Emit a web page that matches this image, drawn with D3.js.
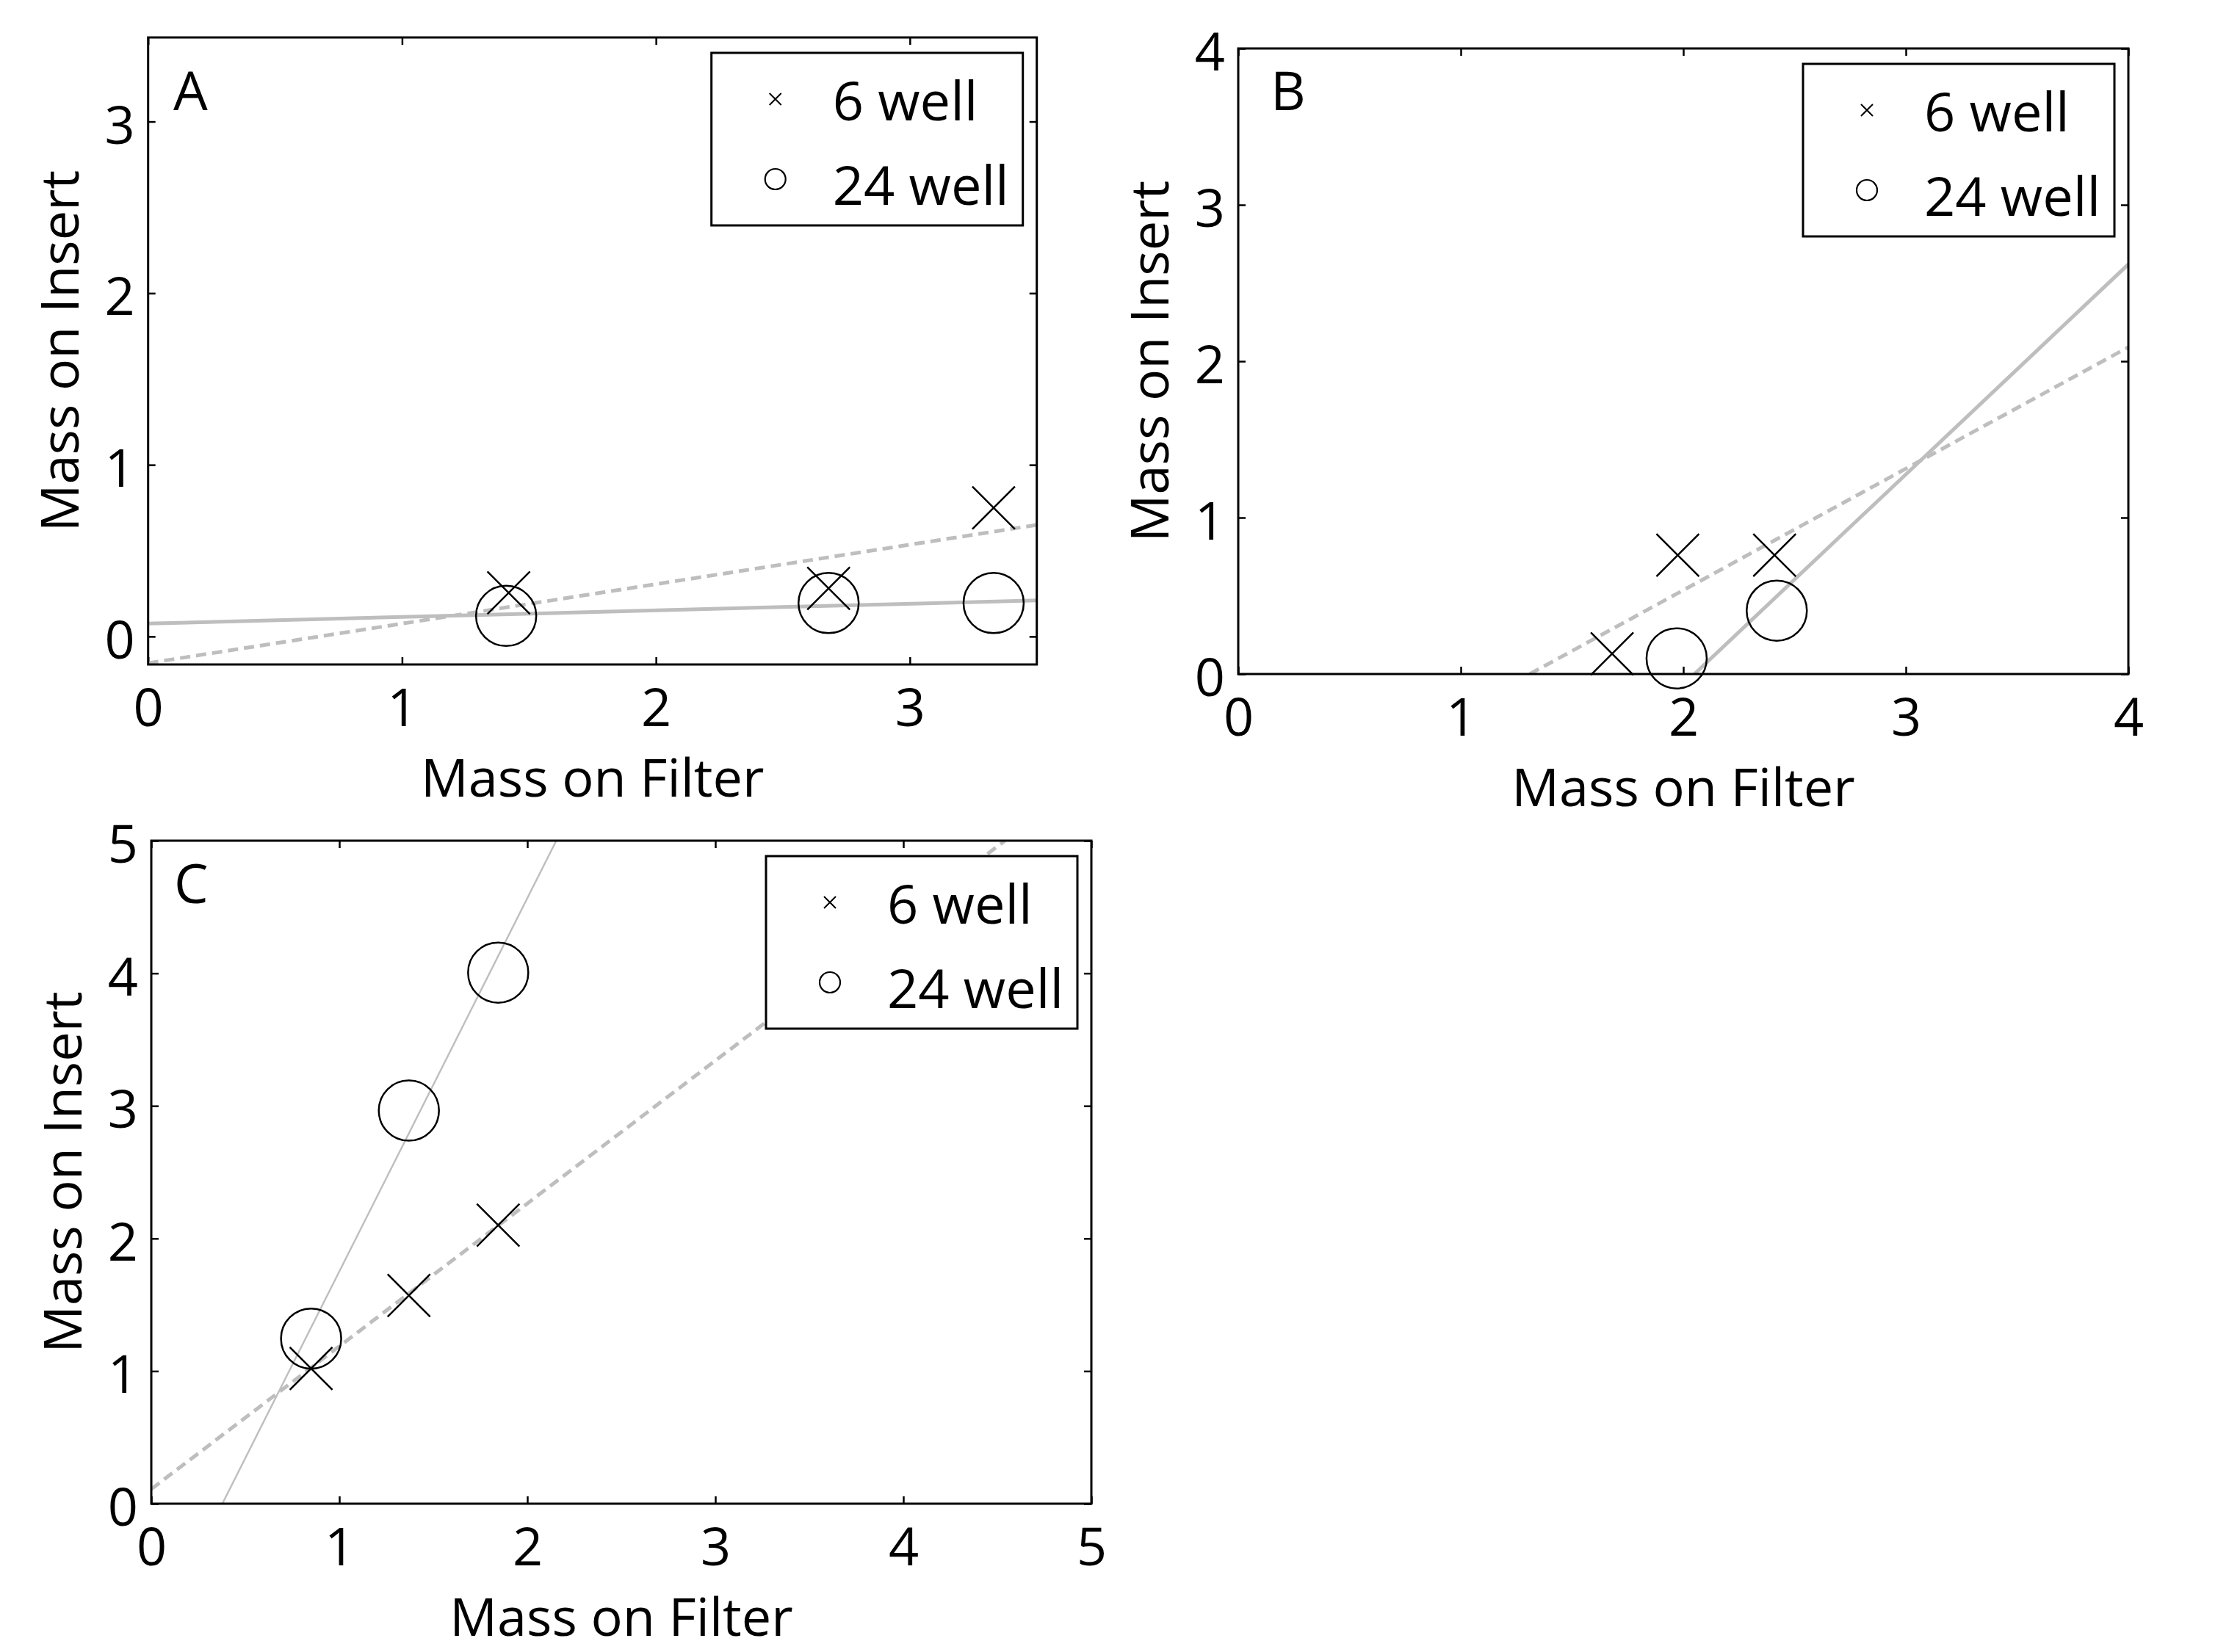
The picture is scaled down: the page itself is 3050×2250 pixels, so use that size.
<!DOCTYPE html>
<html>
<head>
<meta charset="utf-8">
<script src="https://cdn.jsdelivr.net/npm/d3@7"></script>
<style>
  html, body { margin: 0; padding: 0; background: #ffffff; }
  svg { display: block; }
  text { font-family: "Open Sans", "Noto Sans", sans-serif; fill: #000; }
</style>
</head>
<body>
<svg id="chart" width="3050" height="2250"></svg>
<script>
// ---------------- DATA ----------------
const seriesNames = ["6 well", "24 well"];
const xLabel = "Mass on Filter";
const yLabel = "Mass on Insert";

// Panel A
const ticksA_x = [0, 1, 2, 3];
const ticksA_y = [0, 1, 2, 3];
const domainA_x = [0, 3.5];
const domainA_y = [-0.163, 3.49];
const sixWellA_x = [1.42, 2.68, 3.33];
const sixWellA_y = [0.255, 0.28, 0.75];
const twentyFourWellA_x = [1.41, 2.68, 3.33];
const twentyFourWellA_y = [0.12, 0.195, 0.195];
const fitSixA = [[0, -0.155], [3.5, 0.65]];
const fitTwentyFourA = [[0, 0.075], [3.5, 0.21]];

// Panel B
const ticksB_x = [0, 1, 2, 3, 4];
const ticksB_y = [0, 1, 2, 3, 4];
const domainB_x = [0, 4];
const domainB_y = [0, 4];
const sixWellB_x = [1.68, 1.975, 2.41];
const sixWellB_y = [0.13, 0.76, 0.76];
const twentyFourWellB_x = [1.97, 2.42];
const twentyFourWellB_y = [0.1, 0.405];
const fitSixB = [[1.31, 0], [4, 2.09]];
const fitTwentyFourB = [[2.05, 0], [4, 2.62]];

// Panel C
const ticksC_x = [0, 1, 2, 3, 4, 5];
const ticksC_y = [0, 1, 2, 3, 4, 5];
const domainC_x = [0, 5];
const domainC_y = [0, 5];
const sixWellC_x = [0.85, 1.37, 1.845];
const sixWellC_y = [1.02, 1.57, 2.1];
const twentyFourWellC_x = [0.85, 1.37, 1.845];
const twentyFourWellC_y = [1.245, 2.965, 4.005];
const fitSixC = [[0, 0.11], [4.54, 5]];
const fitTwentyFourC = [[0.378, 0], [2.154, 5]];

// ---------------- LAYOUT ----------------
const panels = [
  { label: "A", box: [201.7, 51, 1411.7, 905], xd: domainA_x, yd: domainA_y, xt: ticksA_x, yt: ticksA_y,
    six: [sixWellA_x, sixWellA_y], tf: [twentyFourWellA_x, twentyFourWellA_y],
    fitSix: fitSixA, fitTf: fitTwentyFourA, tfWidth: 5, labelPos: [236, 150] },
  { label: "B", box: [1686, 66, 2898, 918], xd: domainB_x, yd: domainB_y, xt: ticksB_x, yt: ticksB_y,
    six: [sixWellB_x, sixWellB_y], tf: [twentyFourWellB_x, twentyFourWellB_y],
    fitSix: fitSixB, fitTf: fitTwentyFourB, tfWidth: 5, labelPos: [1730, 150] },
  { label: "C", box: [206, 1145, 1486, 2048], xd: domainC_x, yd: domainC_y, xt: ticksC_x, yt: ticksC_y,
    six: [sixWellC_x, sixWellC_y], tf: [twentyFourWellC_x, twentyFourWellC_y],
    fitSix: fitSixC, fitTf: fitTwentyFourC, tfWidth: 2.4, labelPos: [237, 1230] }
];

const FS = 74;      // legend / panel letters
const FS_AX = 72;   // tick labels and axis titles
const gray = "#bebebe";
const svg = d3.select("#chart");
svg.append("rect").attr("width", 3050).attr("height", 2250).attr("fill", "#fff");

function drawX(g, cx, cy, h, w) {
  g.append("path")
    .attr("d", `M${cx - h},${cy - h}L${cx + h},${cy + h}M${cx - h},${cy + h}L${cx + h},${cy - h}`)
    .attr("stroke", "#000").attr("stroke-width", w).attr("fill", "none");
}

panels.forEach((p, i) => {
  const [x0, y0, x1, y1] = p.box;
  const x = d3.scaleLinear().domain(p.xd).range([x0, x1]);
  const y = d3.scaleLinear().domain(p.yd).range([y1, y0]);
  const g = svg.append("g");

  const clipId = "clip" + i;
  svg.append("defs").append("clipPath").attr("id", clipId)
    .append("rect").attr("x", x0).attr("y", y0).attr("width", x1 - x0).attr("height", y1 - y0);

  // axes (ticks inward on all sides)
  g.append("g").attr("transform", `translate(0,${y1})`)
    .call(d3.axisBottom(x).tickValues(p.xt).tickSize(-10).tickPadding(33).tickFormat(d3.format("d")));
  const ay = g.append("g").attr("transform", `translate(${x0},0)`)
    .call(d3.axisLeft(y).tickValues(p.yt).tickSize(-10).tickPadding(18).tickFormat(d3.format("d")));
  g.append("g").attr("transform", `translate(0,${y0})`)
    .call(d3.axisTop(x).tickValues(p.xt).tickSize(-10).tickFormat(""));
  g.append("g").attr("transform", `translate(${x1},0)`)
    .call(d3.axisRight(y).tickValues(p.yt).tickSize(-10).tickFormat(""));
  g.selectAll(".domain").remove();
  g.selectAll(".tick line").attr("stroke", "#000").attr("stroke-width", 2.5);
  g.selectAll(".tick text").attr("font-size", FS_AX).attr("font-family", '"Open Sans", sans-serif').attr("fill", "#000");
  ay.selectAll(".tick text").attr("dy", "0.41em");

  // fit lines
  const line = d3.line().x(d => x(d[0])).y(d => y(d[1]));
  const lg = g.append("g").attr("clip-path", `url(#${clipId})`);
  lg.append("path").attr("d", line(p.fitSix)).attr("stroke", gray).attr("stroke-width", 5)
    .attr("stroke-dasharray", "14,8").attr("fill", "none");
  lg.append("path").attr("d", line(p.fitTf)).attr("stroke", gray).attr("stroke-width", p.tfWidth)
    .attr("fill", "none");

  // markers
  const mg = g.append("g");
  p.tf[0].forEach((vx, k) => {
    mg.append("circle").attr("cx", x(vx)).attr("cy", y(p.tf[1][k])).attr("r", 41)
      .attr("fill", "none").attr("stroke", "#000").attr("stroke-width", 2.5);
  });
  p.six[0].forEach((vx, k) => drawX(mg, x(vx), y(p.six[1][k]), 29, 2.5));

  // frame
  g.append("rect").attr("x", x0).attr("y", y0).attr("width", x1 - x0).attr("height", y1 - y0)
    .attr("fill", "none").attr("stroke", "#000").attr("stroke-width", 3);

  // panel label
  g.append("text").attr("x", p.labelPos[0]).attr("y", p.labelPos[1]).attr("font-size", FS).text(p.label);

  // axis labels
  g.append("text").attr("x", (x0 + x1) / 2).attr("y", y1 + 180).attr("text-anchor", "middle")
    .attr("font-size", FS_AX).text(xLabel);
  g.append("text").attr("transform", `translate(${x0 - 95},${(y0 + y1) / 2}) rotate(-90)`)
    .attr("text-anchor", "middle").attr("font-size", FS_AX).text(yLabel);

  // legend
  const lw = 424, lh = 235;
  const lx = x1 - 19 - lw, ly = y0 + 21;
  const leg = g.append("g").attr("transform", `translate(${lx},${ly})`);
  leg.append("rect").attr("width", lw).attr("height", lh).attr("fill", "#fff")
    .attr("stroke", "#000").attr("stroke-width", 3);
  drawX(leg, 87, 63, 8, 2);
  leg.append("circle").attr("cx", 87).attr("cy", 172).attr("r", 14).attr("fill", "none")
    .attr("stroke", "#000").attr("stroke-width", 2.2);
  leg.append("text").attr("x", 165).attr("y", 92).attr("font-size", FS).text(seriesNames[0]);
  leg.append("text").attr("x", 165).attr("y", 207).attr("font-size", FS).text(seriesNames[1]);
});
</script>
</body>
</html>
